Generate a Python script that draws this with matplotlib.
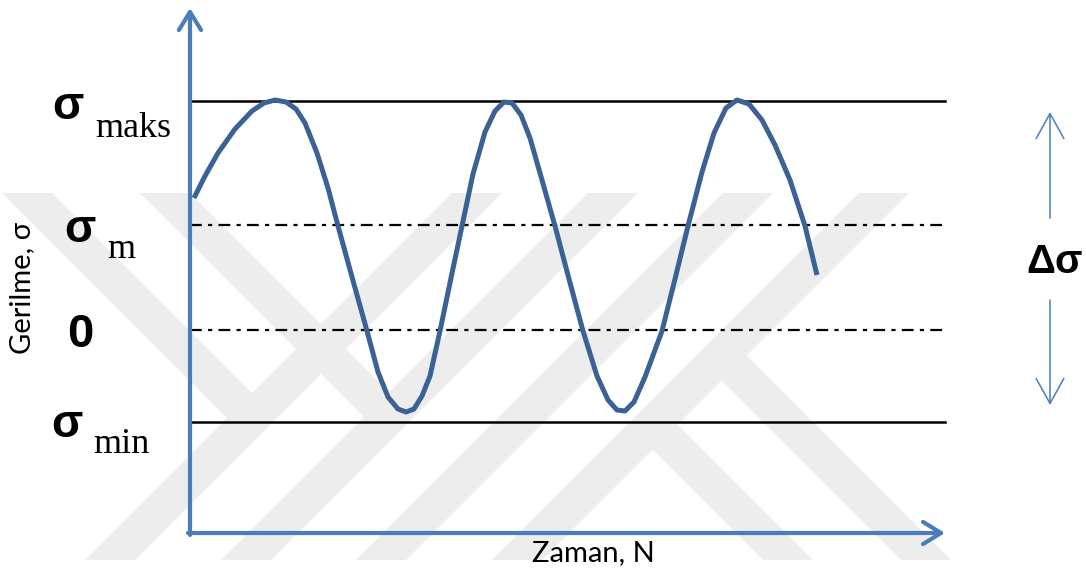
import matplotlib
matplotlib.use("Agg")
import matplotlib.pyplot as plt
from matplotlib.patches import Polygon

plt.rcParams["lines.scale_dashes"] = False

# gerilme egrisi (zaman, gerilme) - sekilden okunan noktalar
zaman = [0.04, 0.15, 0.28, 0.45, 0.62, 0.74, 0.85, 0.96, 1.06, 1.15,
         1.27, 1.38, 1.48, 1.62, 1.77, 1.88, 1.98, 2.08, 2.16, 2.24,
         2.32, 2.40, 2.50, 2.61, 2.72, 2.83, 2.95, 3.05, 3.14, 3.22,
         3.31, 3.40, 3.50, 3.65, 3.79, 3.93, 4.07, 4.18, 4.27, 4.35,
         4.44, 4.55, 4.72, 4.85, 4.98, 5.12, 5.24, 5.36, 5.47, 5.59,
         5.72, 5.85, 6.00, 6.15, 6.27]
gerilme = [1.32, 1.54, 1.77, 2.01, 2.19, 2.27, 2.30, 2.28, 2.21, 2.07,
           1.77, 1.42, 1.04, 0.53, -0.01, -0.42, -0.67, -0.79, -0.82, -0.79,
           -0.66, -0.46, -0.01, 0.52, 1.04, 1.56, 1.98, 2.19, 2.28, 2.27,
           2.15, 1.92, 1.57, 1.04, 0.51, -0.01, -0.46, -0.70, -0.80, -0.81,
           -0.72, -0.47, -0.01, 0.51, 1.04, 1.58, 1.97, 2.22, 2.30, 2.26,
           2.10, 1.85, 1.50, 1.04, 0.55]

# seviyeler
s_maks = 2.29
s_m = 1.05
s_sifir = 0.0
s_min = -0.92

t_son = 7.55      # yatay cizgilerin ve zaman ekseninin bitisi
s_alt = -2.03     # zaman ekseninin yeri
s_ust = 3.22      # gerilme ekseninin ucu

eksen_renk = "#4a7ebb"
egri_renk = "#3b6295"
kalin = ["Liberation Sans", "DejaVu Sans"]

fig = plt.figure(figsize=(10.86, 5.78), dpi=100)

# arka plandaki filigran (piksel koordinatlari)
wm = fig.add_axes([0, 0, 1, 1], zorder=0)
wm.set_xlim(0, 1086)
wm.set_ylim(578, 0)
wm.axis("off")
hw = 25
y_ust, y_alt = 193, 560
egik_sag = [670, 806, 941, 1077]                         # "/" bantlar
egik_sol = [(-166, 193, 418), (-28, 193, 417),           # "\" bantlar
            (366, 355, 560), (228, 424, 560)]
for k in egik_sag:
    wm.add_patch(Polygon([(k - y_ust - hw, y_ust), (k - y_ust + hw, y_ust),
                          (k - y_alt + hw, y_alt), (k - y_alt - hw, y_alt)],
                         closed=True, color="#ededed", lw=0))
for c, y0, y1 in egik_sol:
    wm.add_patch(Polygon([(y0 + c - hw, y0), (y0 + c + hw, y0),
                          (y1 + c + hw, y1), (y1 + c - hw, y1)],
                         closed=True, color="#ededed", lw=0))

ax = fig.add_axes([0, 0, 1, 1], zorder=1)
ax.patch.set_alpha(0)
ax.set_xlim(-1.90, 8.96)
ax.set_ylim(-2.48, 3.30)
ax.axis("off")

# yatay seviye cizgileri
ax.plot([0, t_son], [s_maks, s_maks], color="black", lw=1.8)
ax.plot([0, t_son], [s_min, s_min], color="black", lw=1.8)
for s in (s_m, s_sifir):
    ax.plot([0, t_son], [s, s], color="black", lw=1.6,
            linestyle=(0, (8.5, 4.5, 3, 4.5)))

# egri
ax.plot(zaman, gerilme, color=egri_renk, lw=3.6,
        solid_capstyle="butt", solid_joinstyle="round")

# eksen oklari
ok = dict(arrowstyle="->,head_length=0.65,head_width=0.4", color=eksen_renk,
          lw=3, shrinkA=0, shrinkB=0, mutation_scale=20)
ax.annotate("", xy=(0, s_ust), xytext=(0, s_alt - 0.02), arrowprops=ok)
ax.annotate("", xy=(t_son, s_alt), xytext=(-0.02, s_alt), arrowprops=ok)

# delta sigma oklari
ok2 = dict(arrowstyle="->,head_length=0.9,head_width=0.5", color=eksen_renk,
           lw=1.1, shrinkA=0, shrinkB=0, mutation_scale=20)
ax.annotate("", xy=(8.60, 2.18), xytext=(8.60, 1.12), arrowprops=ok2)
ax.annotate("", xy=(8.60, -0.75), xytext=(8.60, 0.30), arrowprops=ok2)
ax.text(8.65, 0.57, "Δσ", fontsize=29, fontweight="bold",
        family=kalin, ha="center", va="baseline")

# seviye etiketleri
sig = dict(fontsize=33, fontweight="bold", family=kalin,
           ha="center", va="baseline")
alt = dict(fontsize=26, family=["Liberation Serif", "DejaVu Serif"],
           ha="left", va="baseline")
ax.text(-1.22, s_maks - 0.18, "σ", **sig)
ax.text(-0.95, s_maks - 0.36, "maks", **alt)
ax.text(-1.10, s_m - 0.17, "σ", **sig)
ax.text(-0.83, s_m - 0.33, "m", **alt)
ax.text(-1.10, s_sifir - 0.17, "0", fontsize=34, fontweight="bold",
        family=kalin, ha="center", va="baseline")
ax.text(-1.23, s_min - 0.15, "σ", **sig)
ax.text(-0.97, s_min - 0.31, "min", **alt)

# eksen basliklari
ax.text(-1.68, 0.42, "Gerilme, σ", fontsize=21, rotation=90,
        family=["Lato", "DejaVu Sans"], ha="center", va="center")
ax.text(4.03, -2.31, "Zaman, N", fontsize=21,
        family=["Lato", "DejaVu Sans"], ha="center", va="baseline")

fig.savefig("out.png", dpi=100)
plt.close(fig)
